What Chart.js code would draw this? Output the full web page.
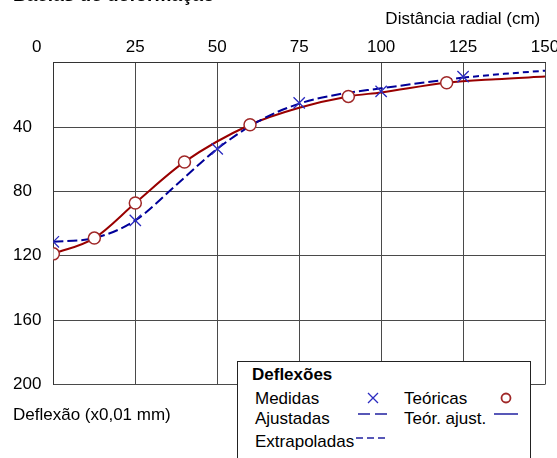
<!DOCTYPE html>
<html>
<head>
<meta charset="utf-8">
<script src="https://cdn.jsdelivr.net/npm/chart.js@4"></script>
<style>
  html,body{margin:0;padding:0;background:#fff;}
  body{width:557px;height:458px;position:relative;overflow:hidden;font-family:"Liberation Sans",Arial,sans-serif;}
  #c{position:absolute;left:0;top:-16px;}
  #legend{position:absolute;left:237px;top:361px;width:292px;height:110px;border:1px solid #222;background:#fff;font-size:17px;color:#000;}
  #legend span{position:absolute;white-space:nowrap;line-height:20px;}
  #legend svg{position:absolute;}
</style>
</head>
<body>
<canvas id="c" width="557" height="474"></canvas>
<div id="legend">
  <span style="left:14px;top:3px;font-weight:bold;">Deflexões</span>
  <span style="left:17px;top:27px;">Medidas</span>
  <svg style="left:128px;top:29px;" width="14" height="14"><path d="M2 2 L12 12 M12 2 L2 12" stroke="#2b2bc0" stroke-width="1.3" fill="none"/></svg>
  <span style="left:166px;top:27px;">Teóricas</span>
  <svg style="left:261px;top:29px;" width="14" height="14"><circle cx="7" cy="7" r="4.5" stroke="#a02828" stroke-width="1.8" fill="#fff"/></svg>
  <span style="left:17px;top:47px;">Ajustadas</span>
  <svg style="left:119px;top:48px;" width="32" height="8"><path d="M1 4 L13 4 M18 4 L30 4" stroke="#2020a0" stroke-width="1.5" fill="none"/></svg>
  <span style="left:166px;top:47px;">Teór. ajust.</span>
  <svg style="left:255px;top:48px;" width="26" height="8"><path d="M1 4 L25 4" stroke="#2020a0" stroke-width="1.5" fill="none"/></svg>
  <span style="left:17px;top:70px;">Extrapoladas</span>
  <svg style="left:117px;top:72px;" width="34" height="8"><path d="M1 4 L8 4 M12 4 L19 4 M23 4 L30 4" stroke="#2020a0" stroke-width="1.5" fill="none"/></svg>
</div>
<script>
// --- data ---
const xTicks = [0, 25, 50, 75, 100, 125, 150];
const yTicks = [0, 40, 80, 120, 160, 200];

// Medidas (measured deflections)
const medidasX = [0, 25, 50, 75, 100, 125];
const medidasY = [111.3, 98, 53.6, 25, 17.9, 8.7];

// Teóricas (theoretical deflections)
const teoricasX = [0, 12.5, 25, 40, 60, 90, 120];
const teoricasY = [118.8, 109, 87.2, 61.7, 38.6, 21, 12.5];

// Teór. ajust. (fitted theoretical curve)
const teorAjustX = [0, 12.5, 25, 40, 60, 75, 90, 100, 120, 135, 150];
const teorAjustY = [118.8, 109, 87.2, 61.7, 38.6, 28, 21, 18.5, 12.5, 10.3, 8.7];

// Ajustadas (fitted measured curve)
const ajustadasX = [0, 12.5, 25, 37.5, 50, 62.5, 75, 87.5, 100, 112.5, 125];
const ajustadasY = [111.3, 109, 98, 76, 53.6, 36.5, 25.5, 19.5, 16, 12.5, 9.3];

// Extrapoladas (extrapolated part)
const extrapX = [125, 137.5, 150];
const extrapY = [9.3, 7, 5];

const pts = (xs, ys) => xs.map((x, i) => ({x: x, y: ys[i]}));
const FONT = '"Liberation Sans", Arial, sans-serif';
const GRID = '#4a4a4a';

new Chart(document.getElementById('c'), {
  type: 'line',
  data: {
    datasets: [
      {label: 'Teór. ajust.', data: pts(teorAjustX, teorAjustY), borderColor: '#990000', borderWidth: 2,
       pointRadius: 0, cubicInterpolationMode: 'monotone', fill: false, order: 5},
      {label: 'Ajustadas', data: pts(ajustadasX, ajustadasY), borderColor: '#000099', borderWidth: 2,
       borderDash: [10, 4], pointRadius: 0, cubicInterpolationMode: 'monotone', fill: false, order: 4},
      {label: 'Extrapoladas', data: pts(extrapX, extrapY), borderColor: '#000099', borderWidth: 2,
       borderDash: [6, 4], pointRadius: 0, cubicInterpolationMode: 'monotone', fill: false, order: 3},
      {label: 'Teóricas', data: pts(teoricasX, teoricasY), showLine: false, pointStyle: 'circle',
       pointRadius: 6, pointBorderWidth: 1.5, pointBorderColor: '#a02828', pointBackgroundColor: '#ffffff', order: 2},
      {label: 'Medidas', data: pts(medidasX, medidasY), showLine: false, pointStyle: 'crossRot',
       pointRadius: 8, pointBorderWidth: 1.3, pointBorderColor: '#2b2bc0', order: 1}
    ]
  },
  options: {
    responsive: false,
    animation: false,
    layout: {padding: {left: 13, right: 12, top: 0, bottom: 0}},
    plugins: {
      legend: {display: false},
      tooltip: {enabled: false},
      title: {display: true, text: 'Bacias de deformação', align: 'start', color: '#000',
              font: {family: FONT, size: 19, weight: 'bold'}, padding: {top: 0, bottom: 2}},
      subtitle: {display: true, text: 'Deflexão (x0,01 mm)', position: 'bottom', align: 'start', color: '#000',
                 font: {family: FONT, size: 17, weight: 'normal'}, padding: {top: 21, bottom: 32}}
    },
    scales: {
      x: {
        type: 'linear', position: 'top', min: xTicks[0], max: xTicks[xTicks.length - 1],
        afterBuildTicks: (s) => { s.ticks = xTicks.map(v => ({value: v})); },
        afterFit: (s) => { s.paddingLeft = 0; s.paddingRight = 0; },
        ticks: {color: '#000', font: {family: FONT, size: 17}, padding: 5, maxRotation: 0,
                callback: (v) => v === 0 ? '0       ' : String(v)},
        grid: {color: GRID, lineWidth: 1, drawTicks: false},
        border: {color: '#333', width: 1},
        title: {display: true, text: 'Distância radial (cm) ', align: 'end', color: '#000',
                font: {family: FONT, size: 17}, padding: {top: 0, bottom: 3}}
      },
      y: {
        type: 'linear', reverse: true, min: yTicks[0], max: yTicks[yTicks.length - 1],
        afterBuildTicks: (s) => { s.ticks = yTicks.map(v => ({value: v})); },
        ticks: {color: '#000', font: {family: FONT, size: 17}, padding: 6, crossAlign: 'far',
                callback: (v) => v === 0 ? '' : String(v)},
        grid: {color: GRID, lineWidth: 1, drawTicks: false},
        border: {color: '#333', width: 1}
      }
    }
  }
});
</script>
</body>
</html>
